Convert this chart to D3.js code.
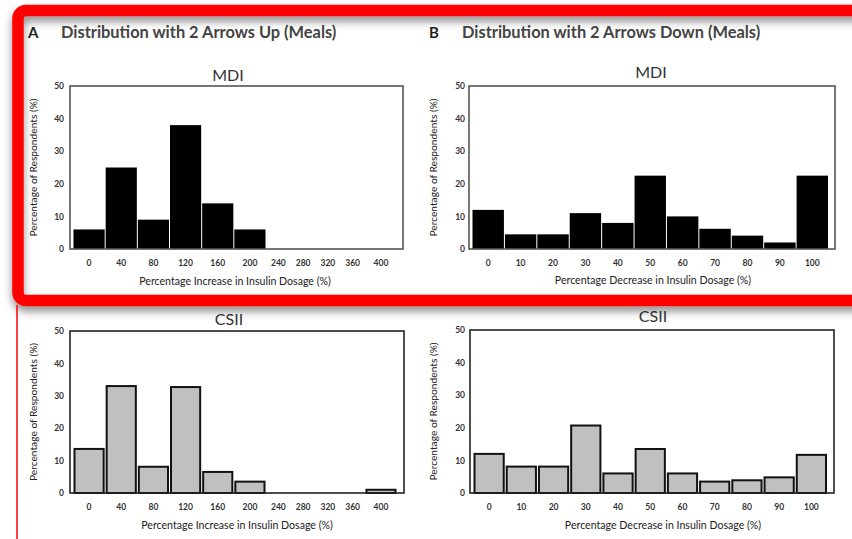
<!DOCTYPE html>
<html>
<head>
<meta charset="utf-8">
<script src="https://cdn.jsdelivr.net/npm/d3@7"></script>
<style>
  html, body { margin: 0; padding: 0; background: #fff; }
  svg { display: block; font-family: Lato, "Open Sans", sans-serif; }
</style>
</head>
<body>
<svg id="chart" width="852" height="539"></svg>
<script>
// Insulin dose adjustment distributions (percentage of respondents per bin)
const upBins = [0, 40, 80, 120, 160, 200, 240, 280, 320, 360, 400];
const upMDI = [6, 25, 9, 38, 14, 6, 0, 0, 0, 0, 0];
const upCSII = [13.6, 33, 8.1, 32.7, 6.5, 3.5, 0, 0, 0, 0, 1];

const downBins = [0, 10, 20, 30, 40, 50, 60, 70, 80, 90, 100];
const downMDI = [12, 4.5, 4.5, 11, 8, 22.5, 10, 6.2, 4.1, 2, 22.5];
const downCSII = [12, 8.1, 8.1, 20.7, 6, 13.5, 6, 3.5, 3.9, 4.8, 11.7];

const yTicks = [0, 10, 20, 30, 40, 50];

const headers = [
  { letter: "A", text: "Distribution with 2 Arrows Up (Meals)", x: 28 },
  { letter: "B", text: "Distribution with 2 Arrows Down (Meals)", x: 429 }
];

const svg = d3.select("#chart");

const defs = svg.append("defs");
const shadow = defs.append("filter").attr("id", "boxShadow")
  .attr("x", "-10%").attr("y", "-10%").attr("width", "120%").attr("height", "130%");
shadow.append("feDropShadow")
  .attr("dx", 0).attr("dy", 5).attr("stdDeviation", 4)
  .attr("flood-color", "#000").attr("flood-opacity", 0.45);

// Panel layouts
const panels = [
  { kind: "up", title: "MDI", values: upMDI, bins: upBins,
    fx0: 70, fx1: 403, fy0: 86, fy1: 249, titleX: 228, titleY: 81,
    fill: "#000", stroke: "none", frame: "#555",
    tickY: 266, xTitleY: 285, xTitleX: 235, yTitleX: 37, yTickX: 64,
    xLabel: "Percentage Increase in Insulin Dosage (%)" },
  { kind: "down", title: "MDI", values: downMDI, bins: downBins,
    fx0: 469, fx1: 835, fy0: 86, fy1: 249, titleX: 651, titleY: 78,
    fill: "#000", stroke: "none", frame: "#555",
    tickY: 266, xTitleY: 284, xTitleX: 653, yTitleX: 437, yTickX: 465,
    xLabel: "Percentage Decrease in Insulin Dosage (%)" },
  { kind: "up", title: "CSII", values: upCSII, bins: upBins,
    fx0: 70, fx1: 404, fy0: 331, fy1: 493, titleX: 229, titleY: 325,
    fill: "#c0c0c0", stroke: "#111", frame: "#222",
    tickY: 510, xTitleY: 529, xTitleX: 237, yTitleX: 37, yTickX: 64,
    xLabel: "Percentage Increase in Insulin Dosage (%)" },
  { kind: "down", title: "CSII", values: downCSII, bins: downBins,
    fx0: 470, fx1: 834, fy0: 330, fy1: 493, titleX: 653, titleY: 322,
    fill: "#c0c0c0", stroke: "#111", frame: "#222",
    tickY: 510, xTitleY: 529, xTitleX: 663, yTitleX: 437, yTickX: 465,
    xLabel: "Percentage Decrease in Insulin Dosage (%)" }
];

panels.forEach(p => {
  const g = svg.append("g");
  const y = d3.scaleLinear().domain([0, 50]).range([p.fy1, p.fy0]);

  // Bin edges in pixels
  let left, right, center;
  if (p.kind === "up") {
    // Bins span ±20 around each label; the empty 240–360 stretch is drawn narrower
    const x = d3.scaleLinear()
      .domain([-20, 220, 380, 420])
      .range([p.fx0 + 3, p.fx0 + 196, p.fx0 + 295, p.fx0 + 327]);
    left = v => x(v - 20);
    right = v => x(v + 20);
    center = v => x(v);
  } else {
    const x = d3.scaleBand().domain(p.bins).range([p.fx0 + 3, p.fx1 - 6.5]);
    left = v => x(v);
    right = v => x(v) + x.bandwidth();
    center = v => x(v) + x.bandwidth() / 2;
  }

  const data = p.bins.map((b, i) => ({ bin: b, value: p.values[i] }));
  const gray = p.fill !== "#000";
  const inset = gray ? 1.5 : 0.5;

  g.selectAll("rect.bar")
    .data(data.filter(d => d.value > 0))
    .join("rect")
    .attr("class", "bar")
    .attr("x", d => left(d.bin) + inset)
    .attr("width", d => right(d.bin) - left(d.bin) - 2 * inset)
    .attr("y", d => y(d.value))
    .attr("height", d => y(0) - y(d.value))
    .attr("fill", p.fill)
    .attr("stroke", p.stroke)
    .attr("stroke-width", gray ? 2 : 0);

  // Plot frame
  g.append("rect")
    .attr("x", p.fx0).attr("y", p.fy0)
    .attr("width", p.fx1 - p.fx0).attr("height", p.fy1 - p.fy0)
    .attr("fill", "none").attr("stroke", p.frame).attr("stroke-width", 1.6);

  // Y axis labels
  const yAxis = d3.axisLeft(y).tickValues(yTicks).tickSize(0).tickPadding(0);
  const ya = g.append("g").attr("transform", `translate(${p.yTickX},0)`).call(yAxis);
  ya.select(".domain").remove();
  ya.selectAll("text")
    .attr("font-family", "Lato, sans-serif")
    .attr("font-size", 8.5).attr("font-weight", "bold").attr("fill", "#333");

  // X tick labels
  g.selectAll("text.xt")
    .data(p.bins)
    .join("text")
    .attr("class", "xt")
    .attr("x", d => center(d))
    .attr("y", p.tickY)
    .attr("text-anchor", "middle")
    .attr("font-size", 8.5).attr("font-weight", "bold").attr("fill", "#333")
    .text(d => d);

  // Axis titles
  g.append("text")
    .attr("x", p.xTitleX).attr("y", p.xTitleY)
    .attr("text-anchor", "middle")
    .attr("font-size", 10.6).attr("fill", "#222")
    .text(p.xLabel);

  g.append("text")
    .attr("transform", `translate(${p.yTitleX},${(p.fy0 + p.fy1) / 2}) rotate(-90)`)
    .attr("text-anchor", "middle")
    .attr("font-size", 10.2).attr("fill", "#222")
    .text("Percentage of Respondents (%)");

  // Panel title
  g.append("text")
    .attr("x", p.titleX).attr("y", p.titleY)
    .attr("text-anchor", "middle")
    .attr("font-size", 16).attr("fill", "#333")
    .text(p.title);
});

// Section headers
headers.forEach(h => {
  svg.append("text")
    .attr("x", h.x).attr("y", 38)
    .attr("font-size", 15).attr("font-weight", "bold").attr("fill", "#222")
    .text(h.letter);
  svg.append("text")
    .attr("x", h.x + 33).attr("y", 38)
    .attr("font-size", 16.4).attr("font-weight", "bold").attr("fill", "#444")
    .text(h.text);
});

// Highlight box around the MDI row
svg.append("rect")
  .attr("x", 18).attr("y", 10.5)
  .attr("width", 870).attr("height", 290)
  .attr("rx", 8).attr("ry", 8)
  .attr("fill", "none")
  .attr("stroke", "#ff0000")
  .attr("stroke-width", 11.5)
  .attr("filter", "url(#boxShadow)");

svg.append("line")
  .attr("x1", 17).attr("x2", 17)
  .attr("y1", 305).attr("y2", 539)
  .attr("stroke", "#ff0000").attr("stroke-width", 1.5);
</script>
</body>
</html>
